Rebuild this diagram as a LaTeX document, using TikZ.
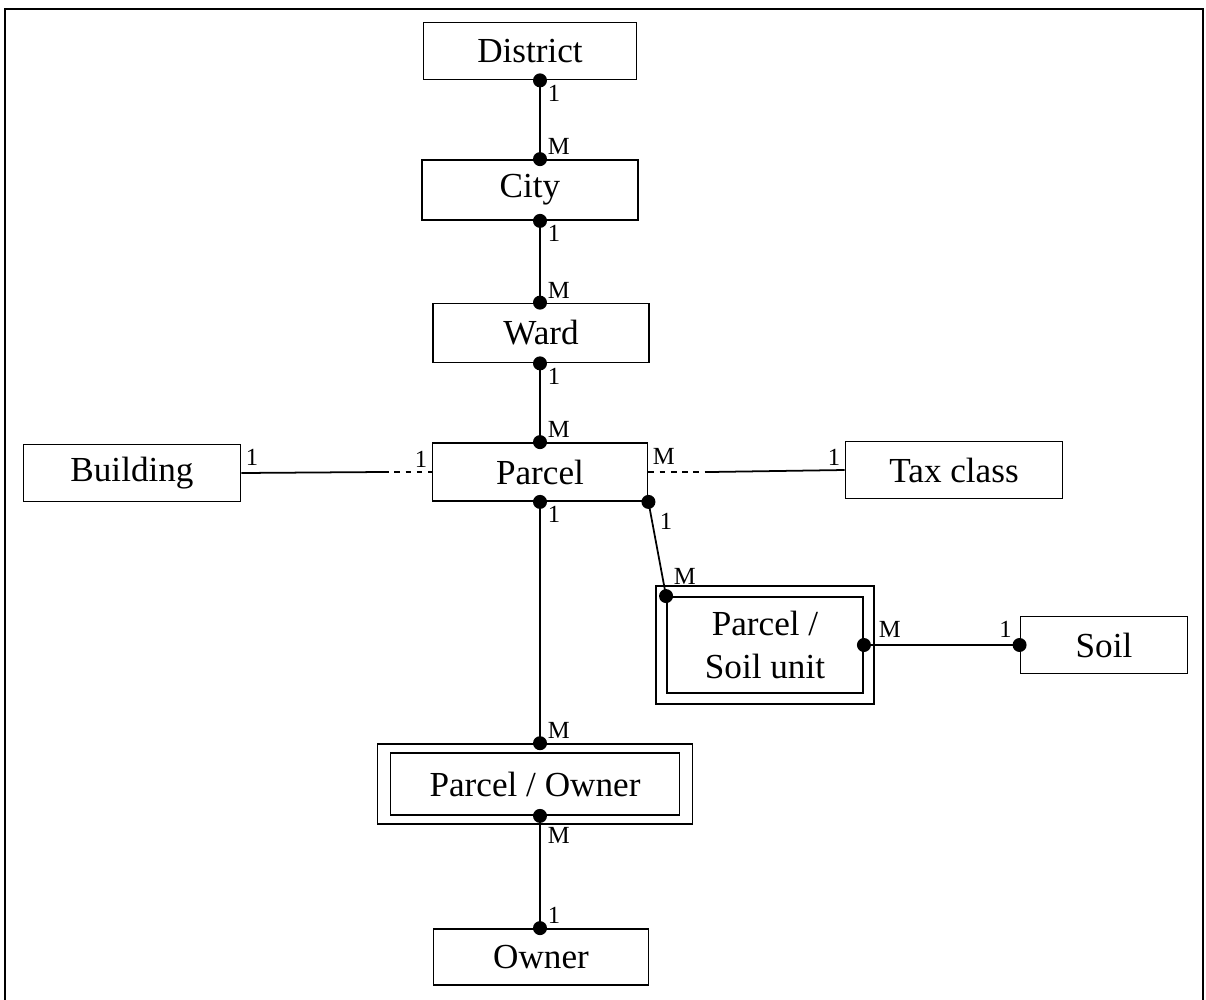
\documentclass[tikz,border=0pt]{standalone}
\usepackage{fontspec}
\setmainfont{Liberation Serif}
\usepackage{tikz}
\usetikzlibrary{fit}

\begin{document}
\begin{tikzpicture}[x=0.01cm, y=-0.01cm]
          \tikzset{entity/.style = {draw, line width=0.5pt, rectangle, inner sep=0pt,
                     minimum width=2.15cm, minimum height=0.58cm,
                     font=\fontsize{10}{12}\selectfont}}
          \tikzset{weak/.style = {draw, line width=0.5pt, rectangle}}
          \tikzset{card/.style = {inner sep=1pt, font=\fontsize{7}{8}\selectfont}}
          \tikzset{dot/.style = {circle, fill, inner sep=0pt, minimum size=0.14cm}}
          \tikzset{rel/.style = {line width=0.5pt}}
          \tikzset{optional/.style = {rel, dash pattern=on 1.6pt off 1.6pt}}

          \useasboundingbox (0,0) rectangle (1206,1000);
          \draw[line width=0.7pt] (5,1000) -- (5,9) -- (1203,9) -- (1203,1000);

          % entities
          \node[entity, minimum width=2.13cm, minimum height=0.57cm] (district) at (530,51) {District};
          \node[entity, minimum width=2.16cm, minimum height=0.60cm] (city) at (530,190) {City};
          \node[entity, minimum width=2.16cm, minimum height=0.59cm] (ward) at (541,333) {Ward};
          \node[entity] (parcel) at (540,472) {Parcel};
          \node[entity, minimum width=2.17cm, minimum height=0.57cm] (building) at (132,473) {Building};
          \node[entity, minimum width=2.17cm, minimum height=0.57cm] (taxclass) at (954,470) {Tax class};
          \node[entity, minimum width=1.67cm, minimum height=0.57cm] (soil) at (1104,645) {Soil};
          \node[entity, minimum width=2.15cm, minimum height=0.56cm] (owner) at (541,957) {Owner};

          % associative entities, drawn as double boxes
          \node[entity, minimum width=1.96cm, minimum height=0.96cm, align=center]
               (psoil) at (765,645) {Parcel /\\Soil unit};
          \node[weak, inner sep=0.1cm, fit=(psoil)] (psoilouter) {};
          \node[entity, minimum width=2.89cm, minimum height=0.62cm] (powner) at (535,784) {Parcel / Owner};
          \node[weak, inner xsep=0.12cm, inner ysep=0.08cm, fit=(powner)] (powerouter) {};

          \coordinate (axis) at (540,0);
          \coordinate (bdash) at (383,472);
          \coordinate (tdash) at (710,472);

          % hierarchy
          \draw[rel] (district.south -| axis) -- (city.north -| axis)
               node[card, pos=0, anchor=north west, xshift=1pt] {1}
               node[card, pos=1, anchor=south west, xshift=1pt] {M};
          \draw[rel] (city.south -| axis) -- (ward.north -| axis)
               node[card, pos=0, anchor=north west, xshift=1pt] {1}
               node[card, pos=1, anchor=south west, xshift=1pt] {M};
          \draw[rel] (ward.south -| axis) -- (parcel.north -| axis)
               node[card, pos=0, anchor=north west, xshift=1pt] {1}
               node[card, pos=1, anchor=south west, xshift=1pt] {M};
          \draw[rel] (parcel.south -| axis) -- (powerouter.north -| axis)
               node[card, pos=0, anchor=north west, xshift=1pt] {1}
               node[card, pos=1, anchor=south west, xshift=1pt] {M};
          \draw[rel] (powner.south -| axis) -- (owner.north -| axis)
               node[card, pos=0, anchor=north west, xshift=1pt, yshift=-2pt] {M}
               node[card, pos=1, anchor=south west, xshift=1pt] {1};

          % optional links
          \draw[rel] (building.east) -- (bdash)
               node[card, pos=0, anchor=south west, yshift=1pt] {1};
          \draw[optional] (bdash) -- (parcel.west)
               node[card, pos=1, anchor=south east] {1};
          \draw[optional] (parcel.east) -- (tdash)
               node[card, pos=0, anchor=south west, yshift=1pt] {M};
          \draw[rel] (tdash) -- (taxclass.west)
               node[card, pos=1, anchor=south east] {1};

          % soil units
          \draw[rel] (parcel.south east) -- (psoil.north west)
               node[card, pos=0, anchor=north west, xshift=2pt, yshift=-2pt] {1}
               node[card, pos=1, anchor=south west, xshift=1pt, yshift=2pt] {M};
          \draw[rel] (psoil.east) -- (soil.west)
               node[card, pos=0, anchor=south west, xshift=3pt, yshift=1pt] {M}
               node[card, pos=1, anchor=south east, xshift=-1pt, yshift=1pt] {1};

          % cardinality dots
          \foreach \p in {district.south -| axis, city.north -| axis, city.south -| axis,
                          ward.north -| axis, ward.south -| axis, parcel.north -| axis,
                          parcel.south -| axis, powerouter.north -| axis,
                          powner.south -| axis, owner.north -| axis,
                          parcel.south east, psoil.north west, psoil.east, soil.west}
            \node[dot] at (\p) {};
\end{tikzpicture}
\end{document}
